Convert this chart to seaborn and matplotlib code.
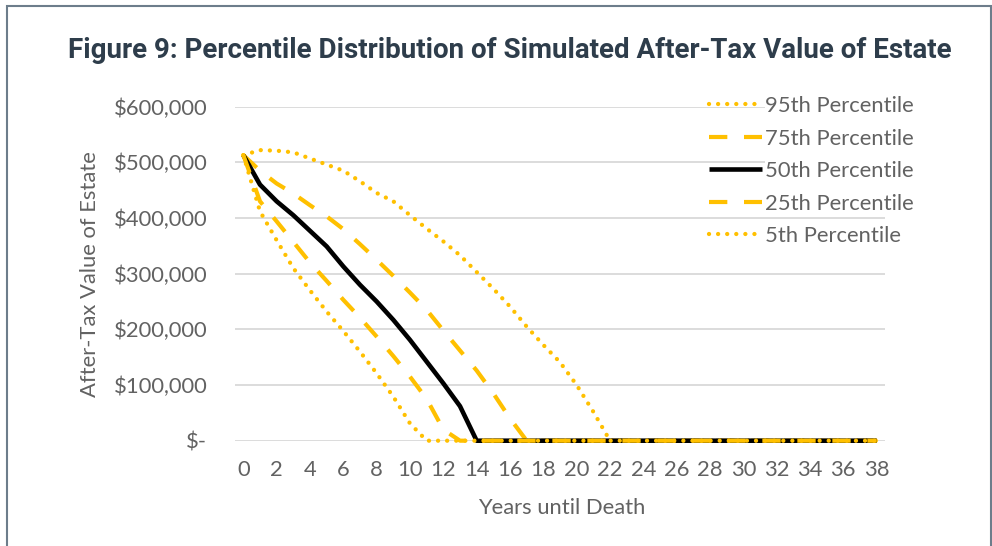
import numpy as np
import pandas as pd
import matplotlib
matplotlib.use("Agg")
import matplotlib.pyplot as plt
from matplotlib.patches import Rectangle
import seaborn as sns

# Simulated after-tax estate value by years until death (USD)
years = list(range(0, 39))
p95 = [513000, 522000, 521000, 518000, 507000, 496000, 485000, 466000, 445000, 430000,
       405000, 381000, 358000, 333000, 303000, 273000, 241000, 205000, 172000, 141000,
       100000, 52000, 0, 0, 0, 0, 0, 0, 0, 0, 0, 0, 0, 0, 0, 0, 0, 0, 0]
p75 = [513000, 485000, 462000, 444000, 423000, 403000, 380000, 353000, 325000, 296000,
       266000, 235000, 198000, 162000, 126000, 85000, 40000, 0, 0, 0,
       0, 0, 0, 0, 0, 0, 0, 0, 0, 0, 0, 0, 0, 0, 0, 0, 0, 0, 0]
p50 = [513000, 460000, 430000, 405000, 377000, 349000, 313000, 280000, 250000, 217000,
       181000, 142000, 103000, 62000, 0, 0, 0, 0, 0, 0,
       0, 0, 0, 0, 0, 0, 0, 0, 0, 0, 0, 0, 0, 0, 0, 0, 0, 0, 0]
p25 = [513000, 430000, 394000, 357000, 320000, 287000, 253000, 221000, 187000, 152000,
       115000, 75000, 20000, 0, 0, 0, 0, 0, 0, 0,
       0, 0, 0, 0, 0, 0, 0, 0, 0, 0, 0, 0, 0, 0, 0, 0, 0, 0, 0]
p5 = [513000, 412000, 360000, 310000, 270000, 232000, 197000, 160000, 121000, 79000,
      31000, 0, 0, 0, 0, 0, 0, 0, 0, 0,
      0, 0, 0, 0, 0, 0, 0, 0, 0, 0, 0, 0, 0, 0, 0, 0, 0, 0, 0]

series_names = ["95th Percentile", "75th Percentile", "50th Percentile",
                "25th Percentile", "5th Percentile"]
y_ticks = [0, 100000, 200000, 300000, 400000, 500000, 600000]
y_tick_labels = ["$-", "$100,000", "$200,000", "$300,000", "$400,000", "$500,000", "$600,000"]
x_ticks = list(range(0, 39, 2))

title = "Figure 9: Percentile Distribution of Simulated After-Tax Value of Estate"
x_label = "Years until Death"
y_label = "After-Tax Value of Estate"

sns.set_style("white")
plt.rcParams["font.family"] = ["Lato", "DejaVu Sans"]

GOLD = "#FFC000"
TEXT = "#626262"
GRID = "#d9d9d9"
FS = 15.8

W, H = 992, 546
fig = plt.figure(figsize=(W / 100, H / 100), dpi=100)
fig.patch.set_facecolor("white")

# plot area in pixel terms
left, right, top, bottom = 235, 885, 106.7, 440.7
ax = fig.add_axes([left / W, (H - bottom) / H, (right - left) / W, (bottom - top) / H])

df = pd.DataFrame({"year": years, series_names[0]: p95, series_names[1]: p75,
                   series_names[2]: p50, series_names[3]: p25, series_names[4]: p5})

dot = (0, (0.01, 2.1))
dash = (0, (4.4, 4.0))
styles = {
    series_names[0]: dict(color=GOLD, lw=3.1, linestyle=dot, dash_capstyle="round"),
    series_names[1]: dict(color=GOLD, lw=3.0, linestyle=dash, dash_capstyle="butt"),
    series_names[2]: dict(color="black", lw=3.3, linestyle="-", solid_capstyle="butt"),
    series_names[3]: dict(color=GOLD, lw=3.0, linestyle=dash, dash_capstyle="butt"),
    series_names[4]: dict(color=GOLD, lw=3.1, linestyle=dot, dash_capstyle="round"),
}

for i, name in enumerate(series_names):
    sns.lineplot(data=df, x="year", y=name, ax=ax, label=name, clip_on=False,
                 zorder=3 + i, **styles[name])

ax.set_xlim(-0.5, 38.5)
ax.set_ylim(0, 600000)
ax.set_yticks(y_ticks)
ax.set_yticklabels(y_tick_labels)
ax.set_xticks(x_ticks)
ax.set_xticklabels([str(t) for t in x_ticks])

for s in ax.spines.values():
    s.set_visible(False)
ax.grid(axis="y", color=GRID, lw=1.3)
ax.grid(axis="x", visible=False)
ax.set_axisbelow(True)

ax.tick_params(axis="both", length=0, labelsize=FS, labelcolor=TEXT)
ax.tick_params(axis="y", pad=20)
ax.tick_params(axis="x", pad=14)

ax.set_xlabel(x_label, fontsize=FS, color=TEXT, va="center")
ax.set_ylabel(y_label, fontsize=FS, color=TEXT, va="center")
ax.xaxis.set_label_coords((562 - left) / (right - left), (bottom - 508) / (bottom - top))
ax.yaxis.set_label_coords((90 - left) / (right - left), (bottom - 274) / (bottom - top))

leg = ax.legend(loc="upper left", bbox_to_anchor=(709 / W, 1 - 96 / H),
                bbox_transform=fig.transFigure, frameon=False, fontsize=FS,
                handlelength=2.4, handletextpad=0.15, labelspacing=0.57,
                borderpad=0, borderaxespad=0)
for t in leg.get_texts():
    t.set_color(TEXT)
    t.set_bbox(dict(facecolor="white", edgecolor="none", pad=0))

fig.text(68 / W, 1 - 58 / H, title, fontsize=20, fontweight="bold",
         family=["Roboto", "DejaVu Sans"], color="#2e3d4b", va="baseline", ha="left")

# outer frame of the figure panel
fig.patches.append(Rectangle((7 / W, -0.05), (991 - 7) / W, 1 - 6 / H + 0.05,
                             transform=fig.transFigure, fill=False,
                             edgecolor="#6d7d8b", lw=1.5))

fig.savefig("out.png", dpi=100, facecolor="white")
